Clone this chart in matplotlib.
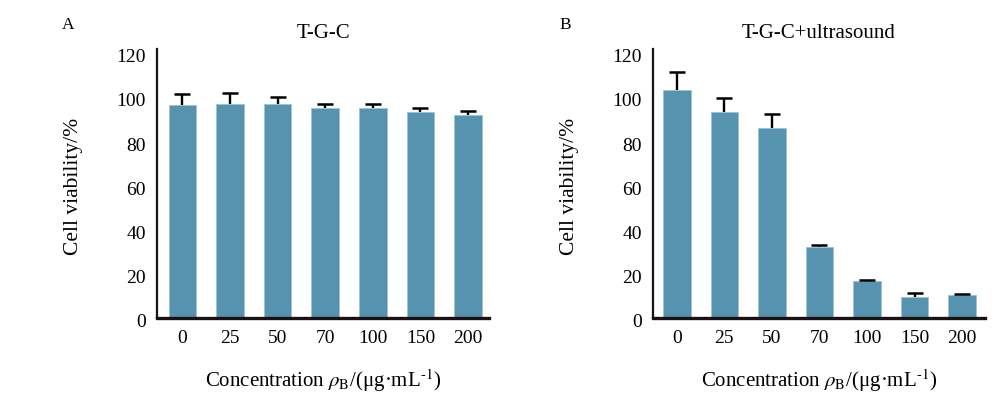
import numpy as np
import matplotlib.pyplot as plt
import matplotlib.transforms as mtransforms

# ============================================
# Datos
# ============================================
conc_labels = ["0", "25", "50", "70", "100", "150", "200"]

viab_a = [96.5, 96.8, 96.8, 94.8, 94.8, 93.0, 91.8]
err_a = [4.8, 4.8, 3.0, 1.8, 1.8, 1.8, 1.6]

viab_b = [103.2, 93.0, 85.8, 32.1, 16.8, 9.7, 10.3]
err_b = [8.0, 6.4, 6.2, 0.7, 0.6, 1.7, 0.6]

BAR_COLOR = "#5593ae"
SPINE_COLOR = "#1a1212"

plt.rcParams['font.family'] = ['Liberation Serif', 'DejaVu Serif']
plt.rcParams['mathtext.fontset'] = 'stix'

fig = plt.figure(figsize=(10, 3.97), dpi=100)

panels = [
    # (left, xlim, values, errors, title, letter, letter_x, ylabel_x)
    (0.157, (-0.535, 6.44), viab_a, err_a, "T-G-C", "A", 0.068, 0.083),
    (0.653, (-0.50, 6.48), viab_b, err_b, "T-G-C+ultrasound", "B", 0.565, 0.579),
]

for left, xlim, vals, errs, title, letter, lx, ylx in panels:
    ax = fig.add_axes([left, 0.199, 0.332, 0.677])
    x = np.arange(len(conc_labels))
    ax.bar(x, vals, width=0.58, color=BAR_COLOR, edgecolor="#9cc4d4", linewidth=0.6, zorder=2)
    # solo la barra de error superior
    _, caps, _ = ax.errorbar(x, vals, yerr=[np.zeros(len(errs)), errs], fmt='none',
                             ecolor='black', elinewidth=1.7, capsize=5.5, capthick=1.8,
                             zorder=3)
    caps[0].remove()
    ax.set_xlim(*xlim)
    ax.set_ylim(0, 121.5)
    ax.set_yticks([0, 20, 40, 60, 80, 100, 120])
    ax.set_xticks(x)
    ax.set_xticklabels(conc_labels)
    ax.tick_params(axis='both', length=0, labelsize=14)
    ax.tick_params(axis='x', pad=9)
    ax.tick_params(axis='y', pad=8)
    shift = mtransforms.ScaledTranslation(0, -3 / 100, fig.dpi_scale_trans)
    for lbl in ax.get_yticklabels():
        lbl.set_transform(lbl.get_transform() + shift)
    ax.spines['top'].set_visible(False)
    ax.spines['right'].set_visible(False)
    ax.spines['left'].set_color(SPINE_COLOR)
    ax.spines['left'].set_linewidth(1.6)
    ax.spines['bottom'].set_color(SPINE_COLOR)
    ax.spines['bottom'].set_linewidth(2.4)
    ax.set_ylabel("Cell viability/%", fontsize=15.5)
    ax.yaxis.set_label_coords(ylx, 0.53, transform=fig.transFigure)
    ax.set_xlabel(r"Concentration $\rho_{\mathrm{B}}$/(μg·mL$^{\text{-}1}$)", fontsize=15,
                  labelpad=14)
    ax.set_title(title, fontsize=15, pad=8)
    fig.text(lx, 0.937, letter, fontsize=12.5, ha='center', va='center')

plt.savefig("out.png", dpi=100)
